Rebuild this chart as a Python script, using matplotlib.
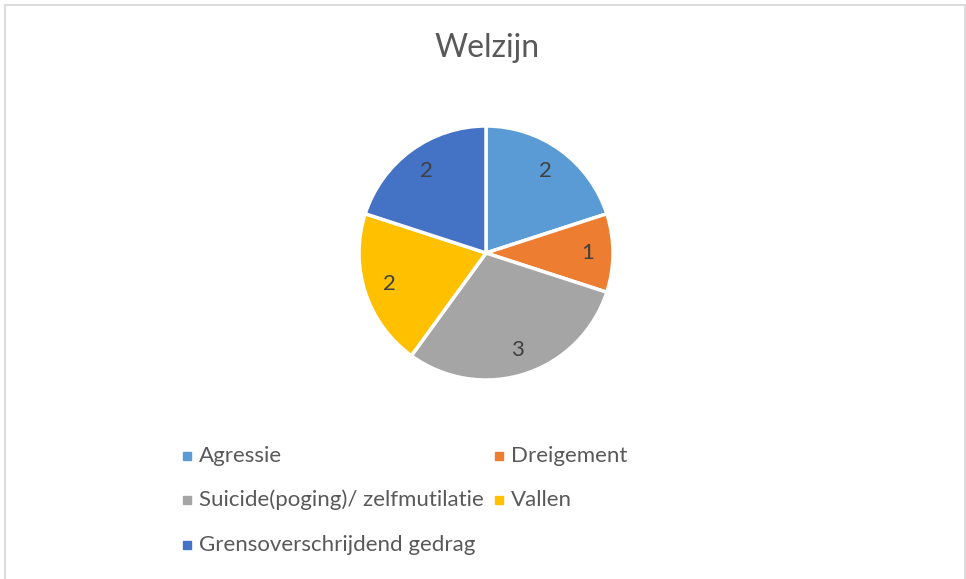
import matplotlib.pyplot as plt
from matplotlib.patches import Rectangle
from matplotlib.lines import Line2D

categories = ['Agressie', 'Dreigement', 'Suicide(poging)/ zelfmutilatie', 'Vallen', 'Grensoverschrijdend gedrag']
values = [2, 1, 3, 2, 2]
colors = ['#5B9BD5', '#ED7D31', '#A5A5A5', '#FFC000', '#4472C4']

W, H = 966, 579
plt.rcParams['font.family'] = ['Lato', 'DejaVu Sans']
fig = plt.figure(figsize=(W / 100, H / 100), dpi=100)

# light border of the chart area
for xs, ys in [([4.5, 964.5], [4.5, 4.5]), ([4.5, 4.5], [4.5, 600]), ([964.5, 964.5], [4.5, 600])]:
    fig.add_artist(Line2D([x / W for x in xs], [1 - y / H for y in ys], color='#d9d9d9', lw=1.3))

fig.text(487 / W, 1 - 48 / H, 'Welzijn', ha='center', va='center', fontsize=23, color='#595959')

# pie
cx, cy, r = 486, 253, 127
ax = fig.add_axes([(cx - r) / W, 1 - (cy + r) / H, 2 * r / W, 2 * r / H])
total = sum(values)
ax.pie(values, colors=colors, startangle=90, counterclock=False, radius=1,
       wedgeprops=dict(edgecolor='white', linewidth=2.5),
       autopct=lambda p: '%d' % round(p * total / 100), pctdistance=0.8,
       textprops=dict(fontsize=16, color='#404040'))
ax.set_xlim(-1, 1)
ax.set_ylim(-1, 1)
ax.set_aspect('equal')
ax.axis('off')

# legend, two columns
col_x = [183, 495]
row_y = [456, 500, 545]
for i, (lab, col) in enumerate(zip(categories, colors)):
    mx = col_x[i % 2]
    my = row_y[i // 2]
    fig.add_artist(Rectangle((mx / W, 1 - (my + 4) / H), 8 / W, 8 / H, color=col,
                             transform=fig.transFigure))
    fig.text((mx + 16) / W, 1 - my / H, lab, ha='left', va='center', fontsize=16, color='#595959')

fig.savefig('out.png', dpi=100)
